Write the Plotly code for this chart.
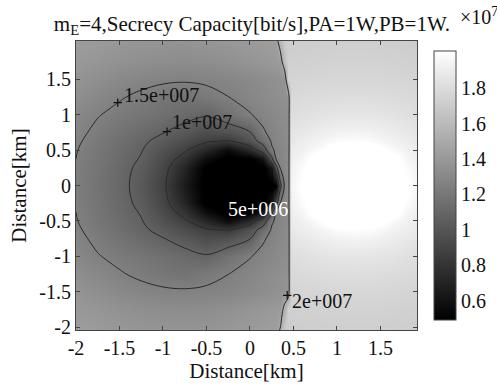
import plotly.graph_objects as go

# Eve position grid [km]
x_km = [-2.0, -1.75, -1.5, -1.25, -1.0, -0.75, -0.5, -0.25, 0.0, 0.15, 0.25, 0.3, 0.35, 0.4, 0.44,
        0.47, 0.6, 0.8, 1.0, 1.2, 1.4, 1.6, 1.8, 1.95]
y_km = [-2.04, -1.75, -1.5, -1.25, -1.0, -0.75, -0.625, -0.5, -0.375, -0.25, 0.0,
        0.25, 0.375, 0.5, 0.625, 0.75, 1.0, 1.25, 1.5, 1.75, 2.04]

# Secrecy capacity, x10^7 bit/s (rows follow y_km, columns follow x_km)
cap_row_m204 = [1.425, 1.41, 1.393, 1.381, 1.375, 1.374, 1.381, 1.394, 1.412, 1.424, 1.432, 1.436, 1.516, 1.71, 1.71,
                1.71, 1.715, 1.72, 1.72, 1.72, 1.72, 1.72, 1.715, 1.71]
cap_row_m175 = [1.40, 1.38, 1.36, 1.34, 1.33, 1.325, 1.33, 1.35, 1.375, 1.39, 1.40, 1.405, 1.41, 1.567, 1.73,
                1.73, 1.735, 1.74, 1.745, 1.745, 1.745, 1.74, 1.735, 1.73]
cap_row_m150 = [1.37, 1.34, 1.31, 1.285, 1.27, 1.265, 1.27, 1.285, 1.31, 1.33, 1.345, 1.352, 1.36, 1.37, 1.38,
                1.755, 1.76, 1.765, 1.77, 1.77, 1.77, 1.765, 1.76, 1.755]
cap_row_m125 = [1.34, 1.30, 1.26, 1.228, 1.196, 1.177, 1.213, 1.249, 1.289, 1.314, 1.33, 1.338, 1.346, 1.355, 1.36,
                1.78, 1.79, 1.80, 1.81, 1.81, 1.81, 1.80, 1.79, 1.78]
cap_row_m100 = [1.30, 1.256, 1.222, 1.188, 1.153, 1.119, 1.084, 1.164, 1.244, 1.279, 1.30, 1.311, 1.322, 1.333, 1.34,
                1.81, 1.825, 1.845, 1.855, 1.86, 1.855, 1.845, 1.825, 1.81]
cap_row_m075 = [1.278, 1.226, 1.176, 1.126, 1.076, 1.014, 0.951, 0.977, 1.063, 1.237, 1.276, 1.29, 1.304, 1.319, 1.33,
                1.85, 1.87, 1.905, 1.93, 1.94, 1.93, 1.905, 1.87, 1.85]
cap_row_m063 = [1.266, 1.209, 1.153, 1.096, 1.027, 0.948, 0.869, 0.838, 0.98, 1.142, 1.264, 1.281, 1.299, 1.316, 1.33,
                1.87, 1.90, 1.94, 1.985, 2.0, 1.985, 1.94, 1.90, 1.865]
cap_row_m050 = [1.255, 1.195, 1.136, 1.077, 0.977, 0.871, 0.718, 0.553, 0.74, 0.96, 1.234, 1.267, 1.286, 1.305, 1.32,
                1.895, 1.925, 1.995, 2.1, 2.1, 2.1, 1.995, 1.925, 1.89]
cap_row_m038 = [1.25, 1.188, 1.127, 1.06, 0.938, 0.787, 0.563, 0.45, 0.45, 0.60, 1.019, 1.253, 1.278, 1.304, 1.325,
                1.91, 1.955, 2.1, 2.1, 2.1, 2.1, 2.1, 1.955, 1.90]
cap_row_m025 = [1.242, 1.18, 1.117, 1.039, 0.908, 0.706, 0.46, 0.45, 0.45, 0.45, 0.64, 0.997, 1.261, 1.30, 1.33,
                1.93, 1.99, 2.1, 2.1, 2.1, 2.1, 2.1, 1.99, 1.92]
cap_row_000 = [1.237, 1.174, 1.111, 1.02, 0.883, 0.642, 0.45, 0.45, 0.45, 0.45, 0.46, 0.50, 1.026, 1.28, 1.33,
               1.94, 2.02, 2.1, 2.1, 2.1, 2.1, 2.1, 2.02, 1.94]
cap_row_p025 = [1.242, 1.18, 1.117, 1.039, 0.908, 0.706, 0.46, 0.45, 0.45, 0.45, 0.64, 0.997, 1.261, 1.30, 1.33,
                1.93, 1.99, 2.1, 2.1, 2.1, 2.1, 2.1, 1.99, 1.92]
cap_row_p038 = [1.25, 1.188, 1.127, 1.06, 0.938, 0.787, 0.563, 0.45, 0.45, 0.60, 1.019, 1.253, 1.278, 1.304, 1.325,
                1.91, 1.955, 2.1, 2.1, 2.1, 2.1, 2.1, 1.955, 1.90]
cap_row_p050 = [1.255, 1.195, 1.136, 1.077, 0.977, 0.871, 0.718, 0.553, 0.74, 0.96, 1.234, 1.267, 1.286, 1.305, 1.32,
                1.895, 1.925, 1.995, 2.1, 2.1, 2.1, 1.995, 1.925, 1.89]
cap_row_p063 = [1.266, 1.209, 1.153, 1.096, 1.027, 0.948, 0.869, 0.838, 0.98, 1.142, 1.264, 1.281, 1.299, 1.316, 1.33,
                1.87, 1.90, 1.94, 1.985, 2.0, 1.985, 1.94, 1.90, 1.865]
cap_row_p075 = [1.278, 1.226, 1.176, 1.126, 1.076, 1.014, 0.951, 0.977, 1.063, 1.237, 1.276, 1.29, 1.304, 1.319, 1.33,
                1.85, 1.87, 1.905, 1.93, 1.94, 1.93, 1.905, 1.87, 1.85]
cap_row_p100 = [1.30, 1.256, 1.222, 1.188, 1.153, 1.119, 1.084, 1.164, 1.244, 1.279, 1.30, 1.311, 1.322, 1.333, 1.34,
                1.81, 1.825, 1.845, 1.855, 1.86, 1.855, 1.845, 1.825, 1.81]
cap_row_p125 = [1.34, 1.30, 1.26, 1.228, 1.196, 1.177, 1.213, 1.249, 1.289, 1.314, 1.33, 1.338, 1.346, 1.355, 1.36,
                1.78, 1.79, 1.80, 1.81, 1.81, 1.81, 1.80, 1.79, 1.78]
cap_row_p150 = [1.37, 1.34, 1.31, 1.285, 1.27, 1.265, 1.27, 1.285, 1.31, 1.33, 1.345, 1.352, 1.36, 1.37, 1.755,
                1.755, 1.76, 1.765, 1.77, 1.77, 1.77, 1.765, 1.76, 1.755]
cap_row_p175 = [1.40, 1.38, 1.36, 1.34, 1.33, 1.325, 1.33, 1.35, 1.375, 1.39, 1.40, 1.405, 1.41, 1.65, 1.73,
                1.73, 1.735, 1.74, 1.745, 1.745, 1.745, 1.74, 1.735, 1.73]
cap_row_p204 = [1.425, 1.41, 1.393, 1.381, 1.375, 1.374, 1.381, 1.394, 1.412, 1.424, 1.432, 1.436, 1.596, 1.71, 1.71,
                1.71, 1.715, 1.72, 1.72, 1.72, 1.72, 1.72, 1.715, 1.71]

capacity = [cap_row_m204, cap_row_m175, cap_row_m150, cap_row_m125, cap_row_m100,
            cap_row_m075, cap_row_m063, cap_row_m050, cap_row_m038, cap_row_m025,
            cap_row_000,
            cap_row_p025, cap_row_p038, cap_row_p050, cap_row_p063, cap_row_p075,
            cap_row_p100, cap_row_p125, cap_row_p150, cap_row_p175, cap_row_p204]

# contour levels drawn as lines (x10^7)
contour_levels = [0.85, 1.07, 1.25, 1.5]

# contour labels as printed in the figure
label_text = ["1.5e+007", "1e+007", "5e+006", "2e+007"]
label_x = [-1.52, -0.953, 0.09, 0.428]
label_y = [1.17, 0.76, -0.33, -1.55]
label_color = ["#111111", "#111111", "#ffffff", "#111111"]
label_mark = [True, True, False, True]

x_ticks = [-2, -1.5, -1, -0.5, 0, 0.5, 1, 1.5]
x_ticktext = ["-2", "-1.5", "-1", "-0.5", "0", "0.5", "1", "1.5"]
y_ticks = [-2, -1.5, -1, -0.5, 0, 0.5, 1, 1.5]
y_ticktext = ["-2", "-1.5", "-1", "-0.5", "0", "0.5", "1", "1.5"]
cbar_ticks = [0.6, 0.8, 1.0, 1.2, 1.4, 1.6, 1.8]
cbar_ticktext = ["0.6", "0.8", "1", "1.2", "1.4", "1.6", "1.8"]

FONT = "Liberation Serif, Times New Roman, Times, serif"
fig = go.Figure()

fig.add_trace(go.Heatmap(
    x=x_km, y=y_km, z=capacity, zsmooth="best",
    colorscale=[[0, "rgb(0,0,0)"], [1, "rgb(255,255,255)"]],
    zmin=0.49, zmax=2.01,
    colorbar=dict(
        x=1.05, xanchor="left", xpad=0, y=0.5, yanchor="middle", len=1.0,
        thickness=22, outlinewidth=1, outlinecolor="#444",
        tickvals=cbar_ticks, ticktext=cbar_ticktext, ticks="",
        tickfont=dict(family=FONT, size=20, color="#111"),
    ),
    hoverinfo="skip",
))

for lev in contour_levels:
    fig.add_trace(go.Contour(
        x=x_km, y=y_km, z=capacity, autocontour=False,
        contours=dict(start=lev, end=lev, size=0.1, coloring="none"),
        line=dict(color="#2a2a2a", width=1, smoothing=1.0),
        showscale=False, hoverinfo="skip",
    ))

mx = [label_x[i] for i in range(len(label_x)) if label_mark[i]]
my = [label_y[i] for i in range(len(label_y)) if label_mark[i]]
fig.add_trace(go.Scatter(
    x=mx, y=my, mode="markers",
    marker=dict(symbol="cross-thin", size=6, line=dict(color="#111", width=1.2)),
    hoverinfo="skip", showlegend=False,
))

offsets = [(4, -8), (3, -10), (0, 0), (3, 6)]
for i, t in enumerate(label_text):
    dx, dy = offsets[i]
    fig.add_annotation(
        x=label_x[i], y=label_y[i], xref="x", yref="y", text=t, showarrow=False,
        xanchor="left" if label_mark[i] else "center", yanchor="middle",
        xshift=dx, yshift=-dy,
        font=dict(family=FONT, size=20, color=label_color[i]),
    )

fig.add_annotation(
    x=1.12, y=1.085, xref="paper", yref="paper", text="×10<sup>7</sup>",
    showarrow=False, xanchor="left", yanchor="middle",
    font=dict(family=FONT, size=20, color="#111"),
)

axis_common = dict(
    showline=True, linecolor="#444", linewidth=1, mirror="allticks",
    ticks="inside", ticklen=4, tickcolor="#444", showgrid=False, zeroline=False,
    tickfont=dict(family=FONT, size=20, color="#111"),
)
fig.update_layout(
    width=497, height=389,
    margin=dict(l=76, r=80, t=41, b=53),
    paper_bgcolor="white", plot_bgcolor="white",
    showlegend=False,
    title=dict(text="m<sub>E</sub>=4,Secrecy Capacity[bit/s],PA=1W,PB=1W.",
               x=0.507, xanchor="center", y=0.94, yanchor="middle",
               font=dict(family=FONT, size=21, color="#111")),
    xaxis=dict(range=[-2, 1.92], tickvals=x_ticks, ticktext=x_ticktext,
               title=dict(text="Distance[km]", standoff=3,
                          font=dict(family=FONT, size=21, color="#111")),
               **axis_common),
    yaxis=dict(range=[-2.04, 2.04], tickvals=y_ticks, ticktext=y_ticktext,
               title=dict(text="Distance[km]", standoff=6,
                          font=dict(family=FONT, size=21, color="#111")),
               **axis_common),
)

fig.write_html("out.html")
